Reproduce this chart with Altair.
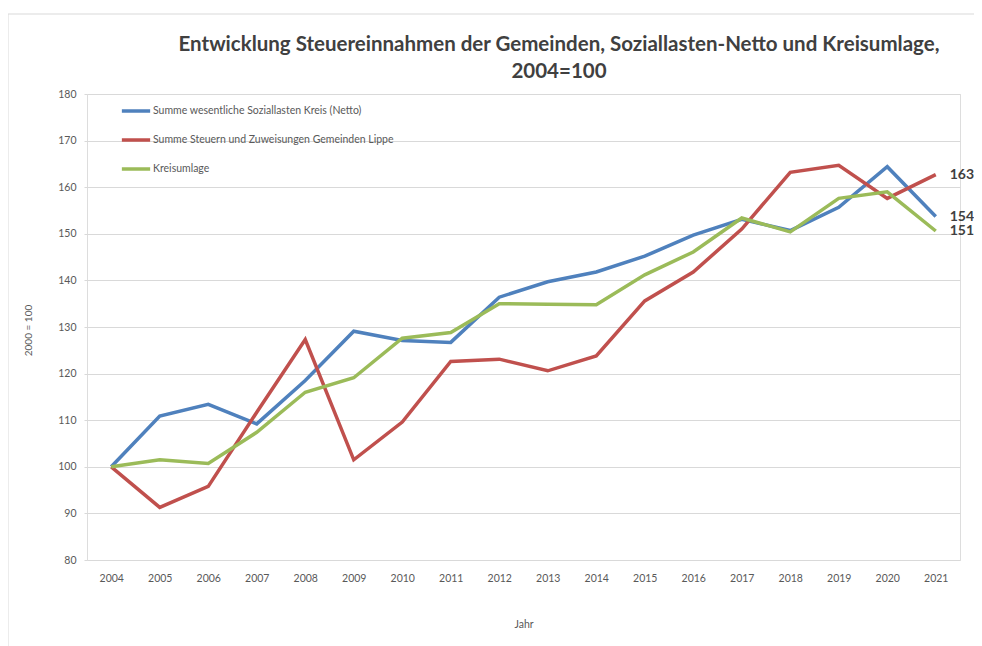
import altair as alt
import pandas as pd

years = [str(y) for y in range(2004, 2022)]
series_names = [
    "Summe wesentliche Soziallasten Kreis (Netto)",
    "Summe Steuern und Zuweisungen Gemeinden Lippe",
    "Kreisumlage",
]
soziallasten = [100, 110.9, 113.4, 109.2, 118.5, 129.1, 127.1, 126.7, 136.4, 139.7,
                141.8, 145.2, 149.7, 153.1, 150.7, 155.7, 164.4, 153.7]
steuern = [100, 91.3, 95.8, 111.7, 127.3, 101.5, 109.6, 122.6, 123.1, 120.6,
           123.8, 135.6, 141.8, 151.0, 163.2, 164.7, 157.6, 162.7]
kreisumlage = [100, 101.5, 100.7, 107.4, 116.0, 119.1, 127.6, 128.8, 135.0, 134.9,
               134.8, 141.2, 146.1, 153.4, 150.4, 157.6, 159.0, 150.6]
colors = ["#4F81BD", "#C0504D", "#9BBB59"]
title_lines = ["Entwicklung Steuereinnahmen der Gemeinden, Soziallasten-Netto und Kreisumlage,",
               "2004=100"]

rows = []
for i, (name, vals) in enumerate(zip(series_names, [soziallasten, steuern, kreisumlage])):
    for y, v in zip(years, vals):
        rows.append({"Jahr": y, "Wert": v, "Serie": name, "order": i})
df = pd.DataFrame(rows)
last = df[df["Jahr"] == years[-1]].copy()
last["label"] = last["Wert"].round().astype(int).astype(str)

FONT = "Lato"
GREY = "#595959"
W, H = 873, 466

x_enc = alt.X("Jahr:O", scale=alt.Scale(type="point", padding=0.5),
              axis=alt.Axis(title="Jahr", labelAngle=0, domain=False, ticks=False,
                            grid=False, labelPadding=13, titlePadding=36,
                            labelFontSize=10.5, titleFontSize=10.5,
                            titleFontWeight="normal", labelColor=GREY, titleColor=GREY,
                            labelFont=FONT, titleFont=FONT))
y_enc = alt.Y("Wert:Q", scale=alt.Scale(domain=[80, 180], nice=False, zero=False),
              axis=alt.Axis(title="2000 = 100", values=list(range(80, 181, 10)),
                            domain=False, tickSize=3, tickColor="#d9d9d9",
                            gridColor="#d9d9d9", labelPadding=8,
                            labelFontSize=10.5, titleFontSize=10,
                            titleFontWeight="normal", labelColor=GREY, titleColor=GREY,
                            labelFont=FONT, titleFont=FONT, titleX=-54, titleY=236))

one = pd.DataFrame({"a": [0]})
frame_top = alt.Chart(one).mark_rule(stroke="#d9d9d9", strokeWidth=1).encode(
    x=alt.value(-79), x2=alt.value(1000), y=alt.value(-80))
frame_left = alt.Chart(one).mark_rule(stroke="#d9d9d9", strokeWidth=1).encode(
    x=alt.value(-79), y=alt.value(-80), y2=alt.value(700))

title1 = alt.Chart(one).mark_text(
    text=title_lines[0], fontSize=20.5, fontWeight="bold", color="#404040", font=FONT,
    align="center", baseline="middle"
).encode(x=alt.value(472), y=alt.value(-49))
title2 = alt.Chart(one).mark_text(
    text=title_lines[1], fontSize=20.5, fontWeight="bold", color="#404040", font=FONT,
    align="center", baseline="middle"
).encode(x=alt.value(472), y=alt.value(-22))

lines = alt.Chart(df).mark_line(strokeWidth=3.5).encode(
    x=x_enc,
    y=y_enc,
    color=alt.Color("Serie:N",
                    scale=alt.Scale(domain=series_names, range=colors),
                    legend=alt.Legend(title=None, orient="none", legendX=33, legendY=1,
                                      symbolType="stroke", symbolSize=800,
                                      symbolStrokeWidth=3.5, labelFontSize=10.5,
                                      labelColor=GREY, labelFont=FONT, labelOffset=1,
                                      rowPadding=6, labelLimit=400)),
    order="order:Q",
)

labels = alt.Chart(last).mark_text(
    align="left", dx=14, fontSize=14, fontWeight="bold", color="#404040", font=FONT
).encode(x="Jahr:O", y="Wert:Q", text="label:N")

chart = alt.layer(frame_top, frame_left, title1, title2, lines, labels).properties(
    width=W, height=H,
    padding={"left": 79, "top": 86, "right": 14, "bottom": 86},
    autosize=alt.AutoSizeParams(type="none"),
).configure_view(stroke=None).configure(background="white")

chart.save("out.html", embed_options={"renderer": "svg", "actions": False})
